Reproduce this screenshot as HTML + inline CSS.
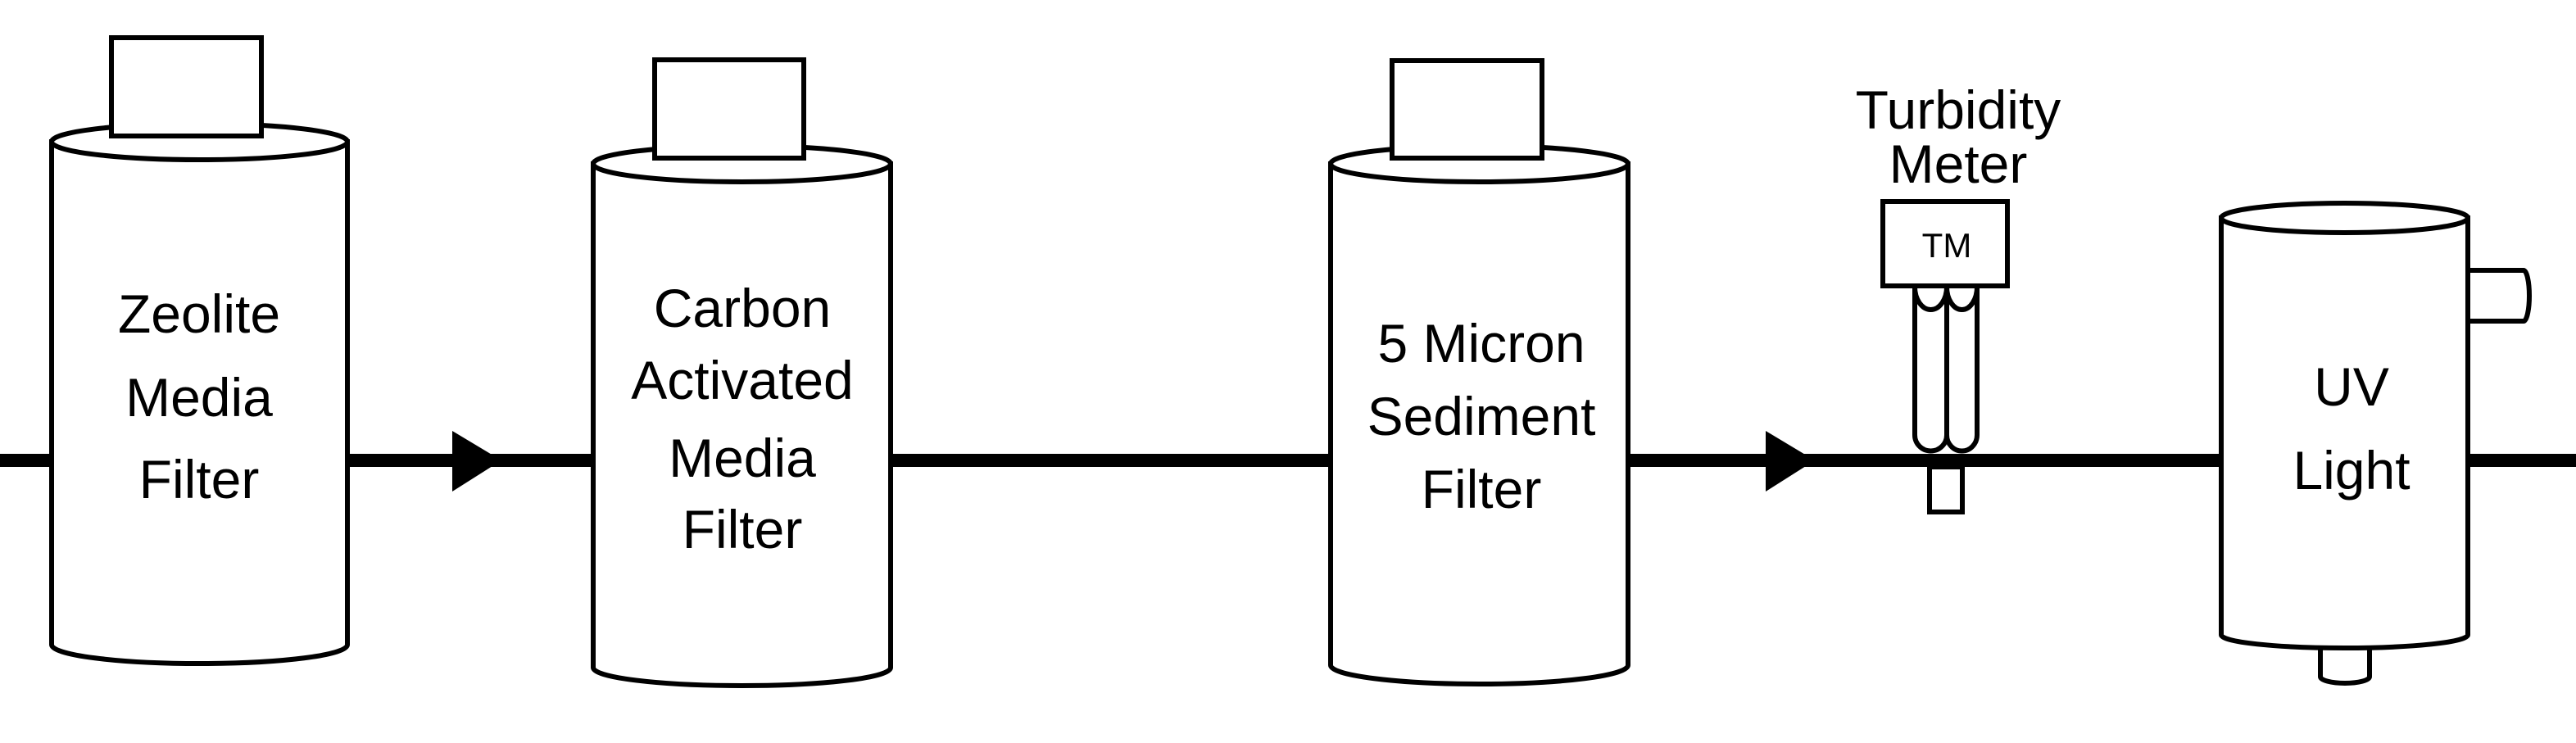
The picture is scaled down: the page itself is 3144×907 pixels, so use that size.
<!DOCTYPE html>
<html><head><meta charset="utf-8"><style>
html,body{margin:0;padding:0;background:#fff;}
svg{display:block;}
text{font-family:"Liberation Sans",sans-serif;fill:#000;text-anchor:middle;}
</style></head><body>
<svg width="3144" height="907" viewBox="0 0 3144 907" xmlns="http://www.w3.org/2000/svg">
<g stroke="#000" stroke-width="6" fill="#fff">
<!-- pipe -->
<line x1="0" y1="562" x2="3144" y2="562" stroke-width="16"/>
<polygon points="552,526 612,562 552,600" fill="#000" stroke="none"/>
<polygon points="2155,526 2215,562 2155,600" fill="#000" stroke="none"/>

<!-- Zeolite -->
<path d="M63,173 L63,787 A180.5,23 0 0 0 424,787 L424,173 Z"/>
<ellipse cx="243.5" cy="173" rx="180.5" ry="22"/>
<rect x="136" y="46" width="183" height="120"/>

<!-- Carbon -->
<path d="M724,200 L724,815 A181.5,22 0 0 0 1087,815 L1087,200 Z"/>
<ellipse cx="905.5" cy="200" rx="181.5" ry="22"/>
<rect x="799" y="73" width="182" height="120"/>

<!-- 5 Micron -->
<path d="M1624,200 L1624,812 A181.5,23 0 0 0 1987,812 L1987,200 Z"/>
<ellipse cx="1805.5" cy="200" rx="181.5" ry="22"/>
<rect x="1699" y="74" width="183" height="119"/>

<!-- Turbidity meter -->
<rect x="2355" y="570" width="40" height="55"/>
<path d="M2337,350 L2337,531 A19.5,19.5 0 0 0 2376,531 L2376,350"/>
<path d="M2376,350 L2376,531 A18.5,19.5 0 0 0 2413,531 L2413,350"/>
<path d="M2337,350 A19.5,28 0 0 0 2376,350 A18.5,28 0 0 0 2413,350" fill="none"/>
<rect x="2298" y="246" width="152" height="103"/>

<!-- UV -->
<path d="M3012,330 L3080,330 A7,31 0 0 1 3080,392 L3012,392 Z"/>
<path d="M2832,780 L2832,826 A30,8 0 0 0 2892,826 L2892,780 Z"/>
<path d="M2711,266 L2711,775 A150.5,16 0 0 0 3012,775 L3012,266 Z"/>
<ellipse cx="2861.5" cy="266" rx="150.5" ry="18"/>
</g>
<g font-size="66">
<text x="243" y="406">Zeolite</text>
<text x="243" y="508">Media</text>
<text x="243" y="608">Filter</text>
<text x="906" y="399">Carbon</text>
<text x="906" y="487">Activated</text>
<text x="906" y="582">Media</text>
<text x="906" y="669">Filter</text>
<text x="1808" y="442">5 Micron</text>
<text x="1808" y="531">Sediment</text>
<text x="1808" y="620">Filter</text>
<text x="2390" y="157">Turbidity</text>
<text x="2390" y="223">Meter</text>
<text x="2870" y="495">UV</text>
<text x="2870" y="597">Light</text>
</g>
<text x="2376" y="314" font-size="42">TM</text>
</svg>
</body></html>
